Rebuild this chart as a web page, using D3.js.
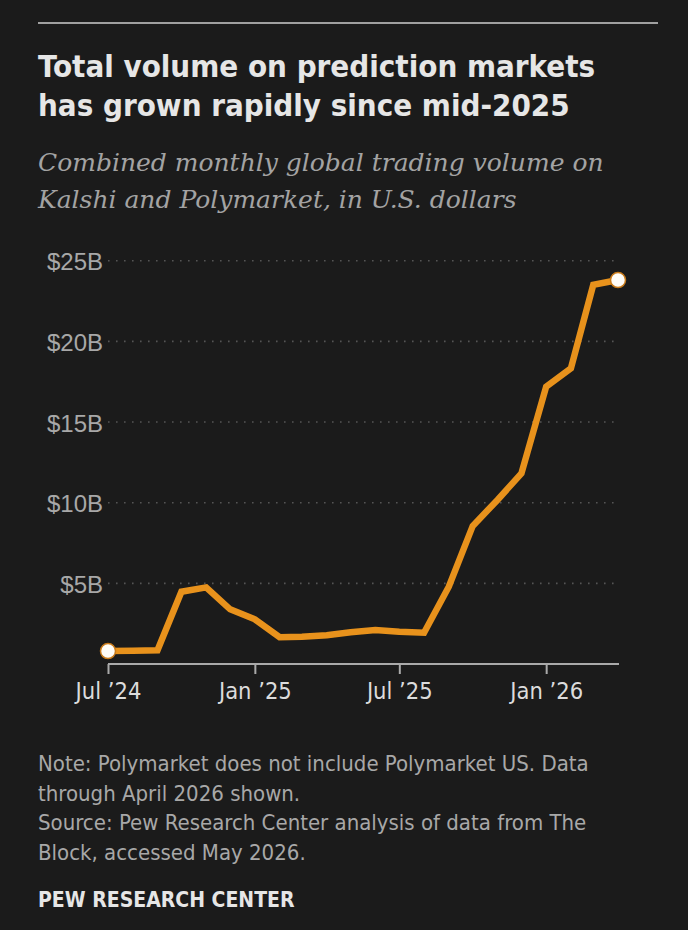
<!DOCTYPE html>
<html>
<head>
<meta charset="utf-8">
<script src="https://cdn.jsdelivr.net/npm/d3@7"></script>
<style>
  body { margin: 0; background: #1b1b1b; }
  svg { display: block; }
</style>
</head>
<body>
<svg id="chart"></svg>
<script>
// Chart data (monthly, Jul 2024 - Apr 2026), billions of U.S. dollars
const months = ["2024-07","2024-08","2024-09","2024-10","2024-11","2024-12",
                "2025-01","2025-02","2025-03","2025-04","2025-05","2025-06",
                "2025-07","2025-08","2025-09","2025-10","2025-11","2025-12",
                "2026-01","2026-02","2026-03","2026-04"];
const volume = [0.8, 0.82, 0.85, 4.48, 4.75, 3.39,
                2.77, 1.66, 1.69, 1.78, 1.97, 2.11,
                2.0, 1.94, 4.79, 8.56, 10.17, 11.82,
                17.19, 18.33, 23.5, 23.8];
const yTicks = [5, 10, 15, 20, 25];
const xTicks = ["2024-07","2025-01","2025-07","2026-01"];
const xTickLabels = ["Jul \u201924","Jan \u201925","Jul \u201925","Jan \u201926"];

const titleLines = ["Total volume on prediction markets", "has grown rapidly since mid-2025"];
const subtitleLines = ["Combined monthly global trading volume on", "Kalshi and Polymarket, in U.S. dollars"];
const noteLines = ["Note: Polymarket does not include Polymarket US. Data",
                   "through April 2026 shown.",
                   "Source: Pew Research Center analysis of data from The",
                   "Block, accessed May 2026."];
const credit = "PEW RESEARCH CENTER";

const W = 688, H = 930;
const franklin = "'Liberation Sans Narrow', 'DejaVu Sans Condensed', 'Roboto Condensed', sans-serif";
const parse = d3.timeParse("%Y-%m");
const data = months.map((m, i) => ({ date: parse(m), value: volume[i] }));

const svg = d3.select("#chart").attr("width", W).attr("height", H);
svg.append("rect").attr("width", W).attr("height", H).attr("fill", "#1b1b1b");

// Top rule
svg.append("line")
    .attr("x1", 38).attr("x2", 658).attr("y1", 23).attr("y2", 23)
    .attr("stroke", "#a0a0a0").attr("stroke-width", 2);

// Title
svg.append("g").selectAll("text").data(titleLines).join("text")
    .attr("x", 38).attr("y", (d, i) => 77 + i * 39)
    .attr("fill", "#e6e6e6")
    .attr("font-family", franklin).attr("font-weight", "bold")
    .attr("font-size", 31)
    .text(d => d);

// Subtitle
svg.append("g").selectAll("text").data(subtitleLines).join("text")
    .attr("x", 38).attr("y", (d, i) => 171 + i * 37)
    .attr("fill", "#a3a3a3")
    .attr("font-family", "'DejaVu Serif', serif").attr("font-style", "italic")
    .attr("font-size", 25)
    .text(d => d);

// Scales
const x = d3.scaleTime()
    .domain(d3.extent(data, d => d.date))
    .range([108, 618]);
const y = d3.scaleLinear().domain([0, 25]).range([664, 260.7]);

// Gridlines
svg.append("g").selectAll("line").data(yTicks).join("line")
    .attr("x1", 108).attr("x2", 615)
    .attr("y1", d => y(d)).attr("y2", d => y(d))
    .attr("stroke", "#555").attr("stroke-width", 1.6)
    .attr("stroke-dasharray", "1.6,6.4");

// Y axis labels
svg.append("g").selectAll("text").data(yTicks).join("text")
    .attr("x", 103).attr("y", d => y(d) + 9.5)
    .attr("text-anchor", "end")
    .attr("fill", "#a8a8a8")
    .attr("font-family", "'Liberation Sans', Arial, sans-serif")
    .attr("font-size", 24)
    .text(d => `$${d}B`);

// X axis
const xAxis = d3.axisBottom(x)
    .tickValues(xTicks.map(parse))
    .tickSize(10)
    .tickFormat((d, i) => xTickLabels[i]);
const gx = svg.append("g").attr("transform", `translate(0,${y(0)})`).call(xAxis);
gx.select(".domain").remove();
gx.append("line")
    .attr("x1", 108).attr("x2", 619).attr("y1", 0).attr("y2", 0)
    .attr("stroke", "#aaa").attr("stroke-width", 2);
gx.selectAll(".tick line").attr("stroke", "#aaa").attr("stroke-width", 2);
gx.selectAll(".tick text")
    .attr("fill", "#dcdcdc")
    .attr("font-family", franklin)
    .attr("font-size", 23.5)
    .attr("dy", 0).attr("y", 35);

// Line
const line = d3.line().x(d => x(d.date)).y(d => y(d.value));
svg.append("path").datum(data)
    .attr("d", line)
    .attr("fill", "none")
    .attr("stroke", "#e8921c")
    .attr("stroke-width", 6.5)
    .attr("stroke-linejoin", "miter");

// End dots
svg.append("g").selectAll("circle").data([data[0], data[data.length - 1]]).join("circle")
    .attr("cx", d => x(d.date)).attr("cy", d => y(d.value))
    .attr("r", 7.5)
    .attr("fill", "#fffdf8")
    .attr("stroke", "#c87a1a").attr("stroke-width", 1.5);

// Note and source
svg.append("g").selectAll("text").data(noteLines).join("text")
    .attr("x", 38).attr("y", (d, i) => 771 + i * 29.7)
    .attr("fill", "#a8a8a8")
    .attr("font-family", franklin)
    .attr("font-size", 22)
    .text(d => d);

svg.append("text")
    .attr("x", 38).attr("y", 907)
    .attr("fill", "#e6e6e6")
    .attr("font-family", franklin).attr("font-weight", "bold")
    .attr("font-size", 21)
    .text(credit);
</script>
</body>
</html>
